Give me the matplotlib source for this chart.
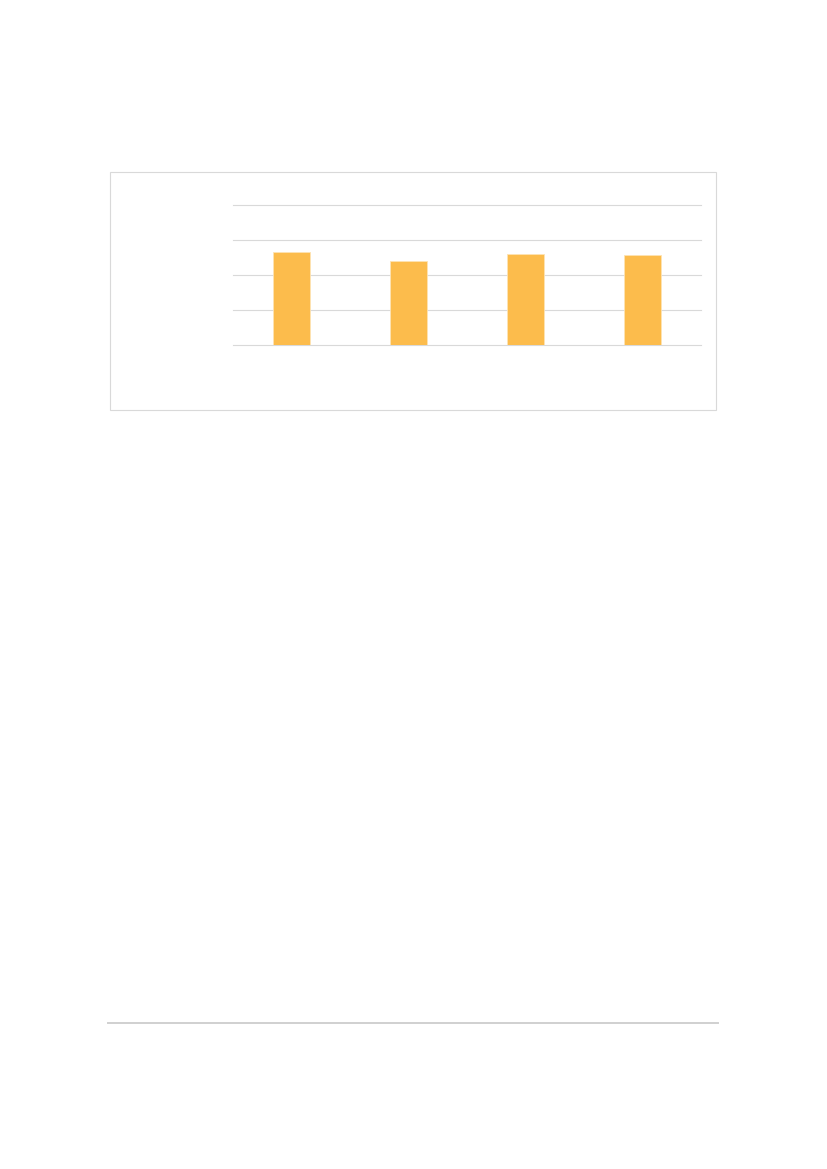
import matplotlib.pyplot as plt
from matplotlib.patches import Rectangle
from matplotlib.lines import Line2D

# values (no labels visible in the reference)
categories = ['1', '2', '3', '4']
values = [2.66, 2.40, 2.60, 2.58]
grid_ticks = [0, 1, 2, 3, 4]

W, H = 827, 1169
fig = plt.figure(figsize=(W / 100, H / 100), dpi=100)
fig.patch.set_facecolor('white')

# chart frame
fig.add_artist(Rectangle((110 / W, 1 - 410 / H), 606 / W, 238 / H,
                         transform=fig.transFigure, fill=False,
                         edgecolor='#d9d9d9', linewidth=0.8))

# footer rule
fig.add_artist(Line2D([108 / W, 718 / W], [1 - 1023 / H, 1 - 1023 / H],
                      transform=fig.transFigure, color='#d0d0d0', linewidth=1.4))

left, right = 233 / W, 701 / W
bottom, top = 1 - 345.3 / H, 1 - 205.3 / H
ax = fig.add_axes([left, bottom, right - left, top - bottom])

x = range(len(categories))
ax.bar(x, values, width=0.314, color='#fcbc4c', edgecolor='#fde3b4',
       linewidth=0.6, zorder=3)

ax.set_xlim(-0.5, len(categories) - 0.5)
ax.set_ylim(grid_ticks[0], grid_ticks[-1])
ax.set_yticks(grid_ticks)
ax.set_xticks(list(x))
ax.set_xticklabels([])
ax.set_yticklabels([])
ax.tick_params(length=0)
ax.grid(axis='y', color='#d9d9d9', linewidth=0.8, zorder=0)
for gl in ax.get_ygridlines():
    gl.set_clip_on(False)
for s in ax.spines.values():
    s.set_visible(False)
ax.set_facecolor('none')

fig.savefig('out.png', dpi=100)
